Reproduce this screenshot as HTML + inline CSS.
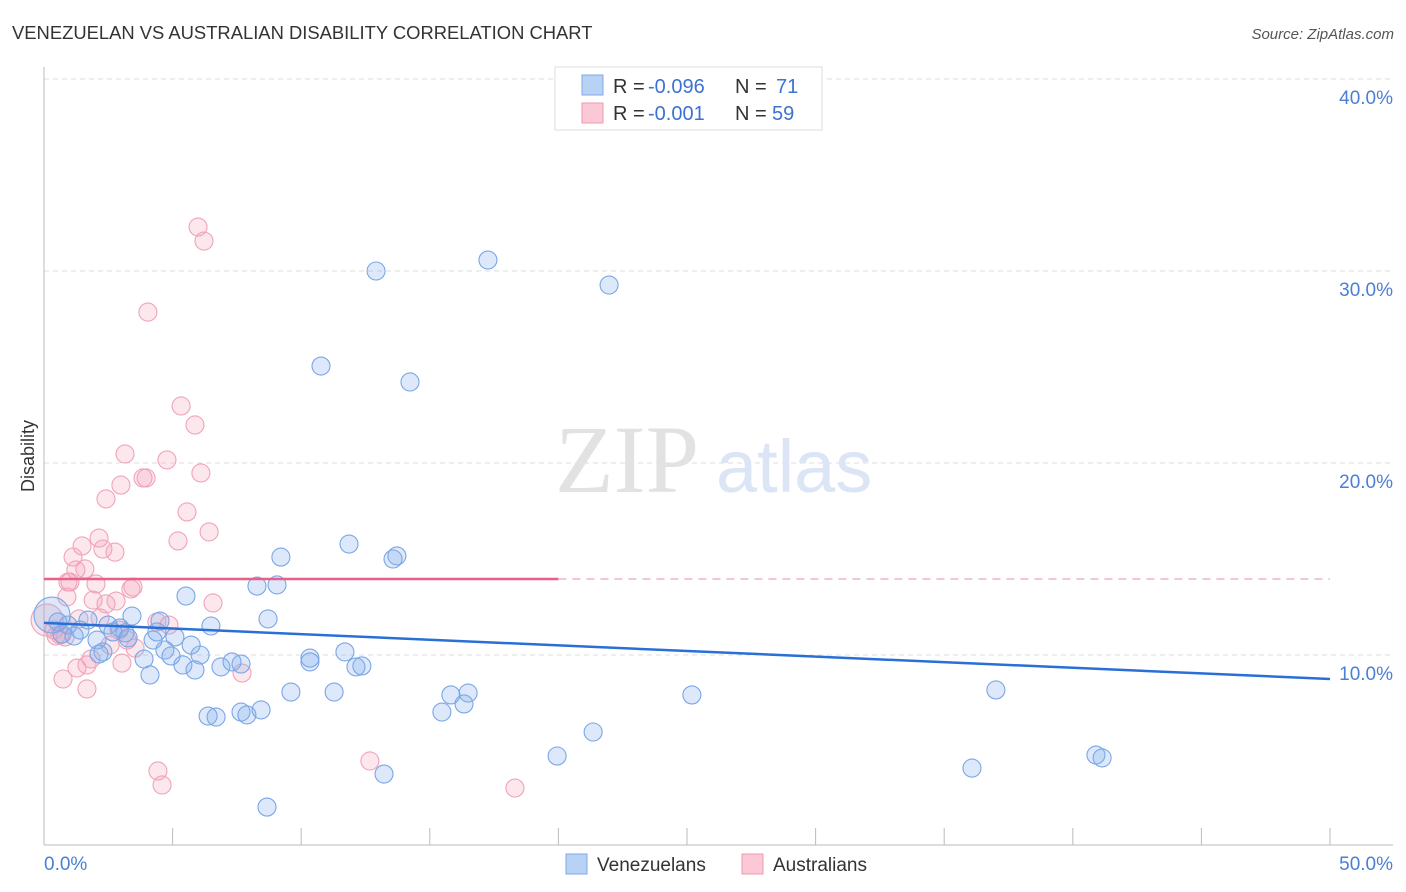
<!DOCTYPE html>
<html><head><meta charset="utf-8"><style>
body{margin:0;background:#fff;font-family:"Liberation Sans",sans-serif;}
svg{display:block}
</style></head><body>
<svg width="1406" height="892" xmlns="http://www.w3.org/2000/svg">
<text x="12" y="39" font-size="18.4" fill="#333">VENEZUELAN VS AUSTRALIAN DISABILITY CORRELATION CHART</text>
<text x="1394" y="39" font-size="15" fill="#555" font-style="italic" text-anchor="end">Source: ZipAtlas.com</text>
<text x="34" y="456" font-size="18" fill="#333" text-anchor="middle" transform="rotate(-90 34 456)">Disability</text>
<g id="grid"></g>
<text x="555" y="492" font-size="96" fill="#e2e2e2" font-family="Liberation Serif, serif">ZIP</text>
<text x="716" y="492" font-size="74" fill="#dbe5f6">atlas</text>
<g id="pts"></g>
<g id="lines"></g>
<g>
<rect x="555" y="67" width="267" height="63" fill="#fff" stroke="#ddd"/>
<rect x="582" y="75" width="21" height="20" fill="#b8d2f5" stroke="#7fa8e8"/>
<rect x="582" y="103" width="21" height="20" fill="#fbc8d6" stroke="#ee9ab3"/>
<text x="613" y="93" font-size="20" fill="#333">R =</text>
<text x="648" y="93" font-size="20" fill="#3d72d0">-0.096</text>
<text x="735" y="93" font-size="20" fill="#333">N =</text>
<text x="776" y="93" font-size="20" fill="#3d72d0">71</text>
<text x="613" y="120" font-size="20" fill="#333">R =</text>
<text x="648" y="120" font-size="20" fill="#3d72d0">-0.001</text>
<text x="735" y="120" font-size="20" fill="#333">N =</text>
<text x="772" y="120" font-size="20" fill="#3d72d0">59</text>
</g>
<g>
<rect x="566" y="854" width="21" height="20" fill="#b8d2f5" stroke="#7fa8e8"/>
<text x="597" y="871" font-size="19" fill="#333">Venezuelans</text>
<rect x="742" y="854" width="21" height="20" fill="#fbc8d6" stroke="#ee9ab3"/>
<text x="773" y="871" font-size="19" fill="#333">Australians</text>
</g>
</svg>
<script>
const yTicks=[10,20,30,40];
const yTickLabels=["10.0%","20.0%","30.0%","40.0%"];
const xTickLabels=["0.0%","50.0%"];
const venX=[12.91,17.26,21.97,10.77,14.23,11.86,13.72,13.57,9.21,8.28,9.06,5.52,8.71,6.49,3.42,4.51,2.95,3.15,2.49,1.71,1.40,0.93,0.54,0.70,1.17,2.06,2.68,3.27,4.39,5.09,4.24,5.72,2.29,2.14,4.70,4.94,6.07,3.89,5.40,5.87,4.12,6.88,7.31,7.66,10.34,10.34,11.70,12.13,12.36,9.60,11.28,15.82,16.49,16.33,15.47,6.38,6.69,7.66,7.89,8.44,21.35,19.95,13.22,8.67,25.19,37.01,36.08,40.90,41.14,0.31];
const venY=[30.0,30.57,29.27,25.05,24.22,15.78,15.16,15.0,15.10,13.59,13.65,13.07,11.88,11.51,12.03,11.77,11.41,11.15,11.56,11.82,11.30,11.56,11.72,11.09,10.99,10.78,11.20,10.89,11.20,10.94,10.78,10.52,10.16,10.05,10.26,9.95,10.0,9.79,9.48,9.22,8.96,9.38,9.64,9.53,9.84,9.64,10.16,9.38,9.43,8.07,8.07,7.92,8.02,7.45,7.03,6.82,6.77,7.03,6.88,7.14,5.99,4.74,3.80,2.08,7.92,8.18,4.11,4.79,4.64,12.08];
const ausX=[5.99,6.22,4.04,5.33,5.87,3.15,4.78,3.97,3.85,6.10,2.99,2.41,5.56,6.42,5.21,2.14,1.13,2.76,2.29,1.48,1.24,1.59,1.01,0.93,2.02,3.46,3.38,6.57,0.89,1.91,2.41,2.80,1.36,2.18,4.39,4.86,2.92,3.23,0.39,0.47,0.62,0.82,2.57,3.54,1.83,3.03,1.28,1.67,7.70,0.74,1.67,12.67,4.43,4.59,18.31,0.12];
const ausY=[32.29,31.56,27.86,22.97,21.98,20.47,20.16,19.22,19.22,19.48,18.85,18.13,17.45,16.41,15.94,16.09,15.10,15.36,15.52,15.68,14.43,14.48,13.80,13.80,13.70,13.54,13.44,12.71,13.02,12.86,12.66,12.81,11.88,11.93,11.72,11.56,11.30,10.78,11.30,10.99,11.04,10.94,10.52,10.36,9.79,9.58,9.32,9.48,9.06,8.75,8.23,4.48,3.96,3.23,3.07,11.82];
const venTrend=[11.67,8.75];
const ausTrend=[13.96,13.96];
const NS="http://www.w3.org/2000/svg";
const X=v=>44+v*25.72, Y=v=>847-v*19.2;
function mk(t,a,p){const e=document.createElementNS(NS,t);for(const k in a)e.setAttribute(k,a[k]);p.appendChild(e);return e;}
const grid=document.getElementById('grid');
yTicks.forEach((t,i)=>{
 const l=mk('line',{x1:44,x2:1393,y1:Y(t),y2:Y(t),stroke:'#ddd','stroke-dasharray':'5,4'},grid);
 
 
 const tx=mk('text',{x:1393,y:Y(t)+25,'font-size':19,fill:'#4a7fd4','text-anchor':'end'},grid);
 tx.textContent=yTickLabels[i];
 
 
});
let ax=mk('line',{x1:44,x2:44,y1:67,y2:845,stroke:'#bbb'},grid);


ax=mk('line',{x1:44,x2:1393,y1:845,y2:845,stroke:'#bbb'},grid);


for(let i=0;i<=10;i++){const tk=mk('line',{x1:X(i*5),x2:X(i*5),y1:828,y2:845,stroke:'#bbb'},grid);
 
 }
let xl=mk('text',{x:44,y:870,'font-size':19,fill:'#4a7fd4'},grid);xl.textContent=xTickLabels[0];


xl=mk('text',{x:1393,y:870,'font-size':19,fill:'#4a7fd4','text-anchor':'end'},grid);xl.textContent=xTickLabels[1];


const pts=document.getElementById('pts');
ausX.forEach((x,i)=>{const c=mk('circle',{cx:X(x),cy:Y(ausY[i]),r:i===ausX.length-1?16:9,fill:'rgba(244,160,185,0.25)',stroke:'#f0a3ba','stroke-width':1.1},pts);
 
 });
venX.forEach((x,i)=>{const c=mk('circle',{cx:X(x),cy:Y(venY[i]),r:i===venX.length-1?18:9,fill:'rgba(130,172,238,0.27)',stroke:'#7aa6e6','stroke-width':1.1},pts);
 
 });
const lines=document.getElementById('lines');
let ln=mk('line',{x1:X(0),x2:X(50),y1:Y(venTrend[0]),y2:Y(venTrend[1]),stroke:'#2a6fd6','stroke-width':2.5},lines);


ln=mk('line',{x1:X(0),x2:X(20),y1:Y(ausTrend[0]),y2:Y(ausTrend[0]+(ausTrend[1]-ausTrend[0])*0.4),stroke:'#e8608a','stroke-width':2.5},lines);


ln=mk('line',{x1:X(20),x2:X(50),y1:Y(ausTrend[0]+(ausTrend[1]-ausTrend[0])*0.4),y2:Y(ausTrend[1]),stroke:'#eba5bb','stroke-width':1.2,'stroke-dasharray':'8,6'},lines);


</script>
</body></html>
